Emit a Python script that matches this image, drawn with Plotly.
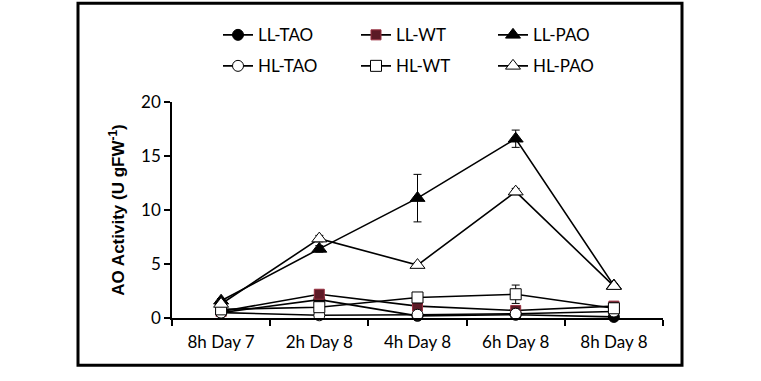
import plotly.graph_objects as go

categories = ["8h Day 7", "2h Day 8", "4h Day 8", "6h Day 8", "8h Day 8"]

ll_tao = [0.5, 1.7, 0.2, 0.3, 0.1]
ll_wt = [0.6, 2.2, 1.1, 0.7, 1.1]
ll_pao = [1.6, 6.4, 11.1, 16.6, 3.0]
hl_tao = [0.5, 0.25, 0.3, 0.4, 0.6]
hl_wt = [0.8, 1.0, 1.9, 2.2, 0.9]
hl_pao = [1.3, 7.35, 4.9, 11.7, 2.95]

ll_tao_err = [0.1, 0.1, 0.1, 0.1, 0.05]
ll_wt_err = [0.1, 0.2, 0.2, 0.1, 0.2]
ll_pao_err = [0.2, 0.3, 2.2, 0.8, 0.2]
hl_tao_err = [0.1, 0.1, 0.1, 0.1, 0.1]
hl_wt_err = [0.1, 0.2, 0.3, 0.85, 0.1]
hl_pao_err = [0.2, 0.3, 0.2, 0.3, 0.2]

W, H = 761, 381
PX0, PX1 = 172, 663
PY0, PY1 = 317.7, 101.7

def px_x(p):
    return (p - PX0) / (PX1 - PX0)

def px_y(p):
    return (PY0 - p) / (PY0 - PY1)

fig = go.Figure()

# name, values, errors, symbol, fill, edge, size, legend x px, legend y px
series = [
    ("LL-TAO", ll_tao, ll_tao_err, "circle", "black", "black", 11, 218, 35),
    ("LL-WT", ll_wt, ll_wt_err, "square", "#5c1a26", "#9a3040", 10, 356, 35),
    ("LL-PAO", ll_pao, ll_pao_err, "triangle-up", "black", "black", 13, 493, 35),
    ("HL-TAO", hl_tao, hl_tao_err, "circle", "white", "black", 11, 218, 66),
    ("HL-WT", hl_wt, hl_wt_err, "square", "white", "black", 11, 356, 66),
    ("HL-PAO", hl_pao, hl_pao_err, "triangle-up", "white", "black", 13, 493, 66),
]

layout_legends = {}
for i, (name, vals, errs, sym, fill, edge, size, lx, ly) in enumerate(series):
    leg = "legend" if i == 0 else f"legend{i + 1}"
    fig.add_trace(go.Scatter(
        x=categories, y=vals, name=name, mode="lines+markers",
        line=dict(color="black", width=1.6),
        marker=dict(symbol=sym, color=fill, size=size, line=dict(color=edge, width=1)),
        error_y=dict(type="data", array=errs, visible=True, color="black", thickness=1, width=4),
        cliponaxis=False,
        legend=leg,
    ))
    layout_legends[leg] = dict(x=px_x(lx), y=px_y(ly), xanchor="left", yanchor="middle",
                               font=dict(family="Lato", size=17),
                               bgcolor="rgba(0,0,0,0)")

fig.update_layout(
    width=W, height=H,
    margin=dict(l=PX0, r=W - PX1, t=PY1, b=H - PY0, autoexpand=False),
    paper_bgcolor="white", plot_bgcolor="white",
    font=dict(family="Lato", size=16, color="black"),
    showlegend=True,
    xaxis=dict(type="category", range=[-0.5, 4.5], tickson="boundaries",
               ticks="outside", ticklen=6, tickcolor="black", tickwidth=1.5,
               showline=True, linecolor="black", linewidth=1.5, showgrid=False,
               ticklabelstandoff=8,
               tickfont=dict(family="Lato", size=17)),
    yaxis=dict(range=[0, 20], tickvals=[0, 5, 10, 15, 20], ticks="outside", ticklen=6,
               tickcolor="black", tickwidth=1.5, showline=True, linecolor="black",
               linewidth=1.5, showgrid=False, zeroline=False,
               tickfont=dict(family="Lato", size=17),
               title=dict(text="<b>AO Activity (U gFW<sup>-1</sup>)</b>",
                          font=dict(family="Liberation Sans", size=17), standoff=12)),
    shapes=[dict(type="rect", xref="paper", yref="paper",
                 x0=px_x(78), x1=px_x(682), y0=px_y(365), y1=px_y(3),
                 line=dict(color="black", width=3))],
    **layout_legends,
)

fig.write_html("out.html", config={"displayModeBar": False},
               post_script="document.body.style.margin='0';")
